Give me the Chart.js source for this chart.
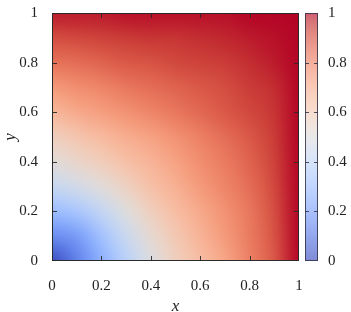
<!DOCTYPE html>
<html><head><meta charset="utf-8">
<script src="https://cdn.jsdelivr.net/npm/chart.js@4.4.0/dist/chart.umd.min.js"></script>
<style>html,body{margin:0;padding:0;background:#fff;}</style>
</head><body>
<canvas id="c" width="351" height="312"></canvas>
<script>
// grid node positions
const xNodes = [0, 0.1, 0.2, 0.3, 0.4, 0.5, 0.6, 0.7, 0.8, 0.9, 1];
const yNodes = [0, 0.1, 0.2, 0.3, 0.4, 0.5, 0.6, 0.7, 0.8, 0.9, 1];
// values, one row per y node (bottom to top)
const zRows = [
  [0.00, 0.12, 0.25, 0.38, 0.49, 0.58, 0.65, 0.72, 0.81, 0.89, 1.00],
  [0.15, 0.19, 0.31, 0.43, 0.53, 0.61, 0.68, 0.75, 0.82, 0.90, 1.00],
  [0.29, 0.33, 0.41, 0.50, 0.58, 0.65, 0.71, 0.77, 0.83, 0.91, 1.00],
  [0.42, 0.46, 0.51, 0.57, 0.64, 0.69, 0.75, 0.80, 0.85, 0.92, 1.00],
  [0.51, 0.55, 0.59, 0.64, 0.68, 0.73, 0.78, 0.82, 0.87, 0.93, 1.00],
  [0.58, 0.62, 0.66, 0.70, 0.73, 0.77, 0.81, 0.85, 0.89, 0.94, 1.00],
  [0.67, 0.71, 0.74, 0.77, 0.80, 0.83, 0.86, 0.89, 0.92, 0.95, 1.00],
  [0.75, 0.78, 0.80, 0.83, 0.85, 0.87, 0.89, 0.91, 0.94, 0.96, 1.00],
  [0.84, 0.85, 0.87, 0.89, 0.90, 0.92, 0.93, 0.94, 0.96, 0.98, 1.00],
  [0.91, 0.92, 0.93, 0.94, 0.95, 0.95, 0.96, 0.97, 0.98, 0.99, 1.00],
  [0.98, 0.98, 0.98, 0.99, 0.99, 0.99, 0.99, 0.99, 1.00, 1.00, 1.00]
];
const axisTicks = [0, 0.2, 0.4, 0.6, 0.8, 1];
const axisTickLabels = ['0', '0.2', '0.4', '0.6', '0.8', '1'];
const colorbarTicks = [0, 0.2, 0.4, 0.6, 0.8, 1];
const colorbarTickLabels = ['0', '0.2', '0.4', '0.6', '0.8', '1'];
const xTitle = 'x';
const yTitle = 'y';

// cool-warm colormap control colours
const CMAP = [
 [59,76,192],[68,90,204],[77,104,215],[87,117,225],[98,130,234],[108,142,241],[119,154,247],[130,165,251],
 [141,176,254],[152,185,255],[163,194,255],[174,201,253],[184,208,249],[194,213,244],[204,217,238],[213,219,230],
 [221,221,221],[229,216,209],[236,211,197],[241,204,185],[245,196,173],[247,187,160],[247,177,148],[247,166,135],
 [244,154,123],[241,141,111],[236,127,99],[229,112,88],[222,96,77],[213,80,66],[203,62,56],[192,40,47],[180,4,38]
];
function cmap(v){
  v = Math.max(0, Math.min(1, v));
  const t = v * (CMAP.length - 1);
  const i = Math.min(CMAP.length - 2, Math.floor(t));
  const f = t - i;
  const a = CMAP[i], b = CMAP[i+1];
  return [0,1,2].map(k => Math.round(a[k] + (b[k]-a[k]) * f));
}

const FONT = '"Liberation Serif", "DejaVu Serif", serif';
const TXT = '#222';
const hiddenGrid = len => ({ display: false, drawTicks: true, tickLength: len, color: 'rgba(0,0,0,0)' });

const heatPlugin = {
  id: 'heat',
  beforeDatasetsDraw(chart) {
    const {ctx, chartArea: a, scales: {x, y}} = chart;
    const nx = xNodes.length, ny = yNodes.length;
    const off = document.createElement('canvas');
    off.width = nx; off.height = ny;
    const octx = off.getContext('2d');
    const img = octx.createImageData(nx, ny);
    for (let j = 0; j < ny; j++) {
      for (let i = 0; i < nx; i++) {
        const c = cmap(zRows[j][i]);
        const idx = ((ny - 1 - j) * nx + i) * 4;
        img.data[idx] = c[0]; img.data[idx+1] = c[1]; img.data[idx+2] = c[2]; img.data[idx+3] = 255;
      }
    }
    octx.putImageData(img, 0, 0);
    const hx = (xNodes[1] - xNodes[0]) / 2, hy = (yNodes[1] - yNodes[0]) / 2;
    const left = x.getPixelForValue(xNodes[0] - hx), right = x.getPixelForValue(xNodes[nx-1] + hx);
    const top = y.getPixelForValue(yNodes[ny-1] + hy), bottom = y.getPixelForValue(yNodes[0] - hy);
    ctx.save();
    ctx.beginPath();
    ctx.rect(a.left, a.top, a.right - a.left, a.bottom - a.top);
    ctx.clip();
    ctx.imageSmoothingEnabled = true;
    ctx.imageSmoothingQuality = 'high';
    ctx.drawImage(off, left, top, right - left, bottom - top);
    ctx.restore();
  },
  afterDraw(chart) {
    const {ctx, chartArea: a, scales: {x, y, cb}} = chart;
    ctx.save();
    // frame
    ctx.strokeStyle = '#2a2a2a';
    ctx.lineWidth = 1;
    ctx.strokeRect(a.left + 0.5, a.top + 0.5, a.right - a.left - 1, a.bottom - a.top - 1);
    // inward ticks on four sides
    ctx.strokeStyle = 'rgba(40,40,40,0.9)';
    ctx.beginPath();
    axisTicks.forEach(v => {
      if (v <= 0 || v >= 1) return;
      const px = Math.round(x.getPixelForValue(v)) + 0.5;
      ctx.moveTo(px, a.bottom); ctx.lineTo(px, a.bottom - 5);
      ctx.moveTo(px, a.top); ctx.lineTo(px, a.top + 5);
      const py = Math.round(y.getPixelForValue(v)) + 0.5;
      ctx.moveTo(a.left, py); ctx.lineTo(a.left + 5, py);
      ctx.moveTo(a.right, py); ctx.lineTo(a.right - 5, py);
    });
    ctx.stroke();
    // colour bar
    const bx0 = 305, bx1 = 318;
    const by0 = cb.getPixelForValue(1), by1 = cb.getPixelForValue(0);
    const g = ctx.createLinearGradient(0, by1, 0, by0);
    for (let k = 0; k <= 32; k++) {
      const c = cmap(k / 32);
      g.addColorStop(k / 32, `rgba(${c[0]},${c[1]},${c[2]},0.65)`);
    }
    ctx.fillStyle = g;
    ctx.fillRect(bx0, by0, bx1 - bx0, by1 - by0);
    ctx.strokeStyle = 'rgba(50,50,70,0.85)';
    ctx.strokeRect(bx0 + 0.5, by0 + 0.5, bx1 - bx0 - 1, by1 - by0 - 1);
    ctx.beginPath();
    colorbarTicks.forEach(v => {
      if (v <= 0 || v >= 1) return;
      const py = Math.round(cb.getPixelForValue(v)) + 0.5;
      ctx.moveTo(bx0, py); ctx.lineTo(bx0 + 4, py);
      ctx.moveTo(bx1, py); ctx.lineTo(bx1 - 4, py);
    });
    ctx.stroke();
    ctx.restore();
  }
};

const points = [];
yNodes.forEach((yv, j) => xNodes.forEach((xv, i) => points.push({x: xv, y: yv, v: zRows[j][i]})));

new Chart(document.getElementById('c'), {
  type: 'scatter',
  data: { datasets: [{ data: points, pointRadius: 0, pointHoverRadius: 0, showLine: false }] },
  options: {
    responsive: false,
    animation: false,
    events: [],
    layout: { padding: { top: 13, left: 0, right: 0, bottom: 0 } },
    plugins: { legend: { display: false }, tooltip: { enabled: false } },
    scales: {
      x: {
        type: 'linear', position: 'bottom', min: 0, max: 1,
        grid: hiddenGrid(16), border: { display: false },
        afterBuildTicks: s => { s.ticks = axisTicks.map(v => ({ value: v })); },
        ticks: { padding: 0, color: TXT, font: { family: FONT, size: 15 }, maxRotation: 0,
                 callback: (v, i) => axisTickLabels[i] },
        title: { display: true, text: xTitle, color: TXT, padding: 0,
                 font: { family: FONT, size: 17, style: 'italic', lineHeight: 0.6 } },
        afterFit: s => { s.height = 51; }
      },
      y: {
        type: 'linear', position: 'left', min: 0, max: 1,
        grid: hiddenGrid(14), border: { display: false },
        afterBuildTicks: s => { s.ticks = axisTicks.map(v => ({ value: v })); },
        ticks: { padding: 0, color: TXT, font: { family: FONT, size: 15 },
                 callback: (v, i) => axisTickLabels[i] },
        title: { display: true, text: yTitle, color: TXT, padding: 0,
                 font: { family: FONT, size: 17, style: 'italic' } },
        afterFit: s => { s.width = 52; }
      },
      cb: {
        type: 'linear', position: 'right', min: 0, max: 1,
        grid: hiddenGrid(29), border: { display: false },
        afterBuildTicks: s => { s.ticks = colorbarTicks.map(v => ({ value: v })); },
        ticks: { padding: 0, color: TXT, font: { family: FONT, size: 15 },
                 callback: (v, i) => colorbarTickLabels[i] },
        afterFit: s => { s.width = 52; }
      }
    }
  },
  plugins: [heatPlugin]
});
</script>
</body></html>
